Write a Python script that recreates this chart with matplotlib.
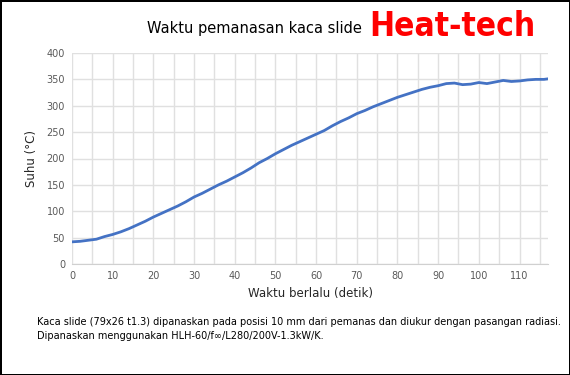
"""Heating time of a glass slide (Heat-tech chart)."""

import matplotlib.pyplot as plt
from matplotlib.ticker import MultipleLocator

# elapsed time (s) and temperature (deg C)
times = [0, 2, 4, 6, 8, 10, 12, 14, 16, 18, 20, 22, 24, 26, 28, 30, 32, 34, 36, 38,
         40, 42, 44, 46, 48, 50, 52, 54, 56, 58, 60, 62, 64, 66, 68, 70, 72, 74, 76, 78,
         80, 82, 84, 86, 88, 90, 92, 94, 96, 98, 100, 102, 104, 106, 108, 110, 112, 114, 116, 118]
temps = [42, 43, 45, 47, 52, 56, 61, 67, 74, 81, 89, 96, 103, 110, 118, 127, 134, 142, 150, 157,
         165, 173, 182, 192, 200, 209, 217, 225, 232, 239, 246, 253, 262, 270, 277, 285, 291, 298, 304, 310,
         316, 321, 326, 331, 335, 338, 342, 343, 340, 341, 344, 342, 345, 348, 346, 347, 349, 350, 350, 352]

title = "Waktu pemanasan kaca slide"
brand = "Heat-tech"
x_label = "Waktu berlalu (detik)"
y_label = "Suhu (°C)"
caption = ("Kaca slide (79x26 t1.3) dipanaskan pada posisi 10 mm dari pemanas dan diukur dengan pasangan radiasi.\n"
           "Dipanaskan menggunakan HLH-60/f\u221e/L280/200V-1.3kW/K.")


def main():
    fig = plt.figure(figsize=(5.7, 3.75), dpi=100, edgecolor="black", linewidth=2)
    ax = fig.add_axes([72 / 570, 111 / 375, 476 / 570, 211 / 375])

    ax.plot(times, temps, color="#4472C4", linewidth=2.0, zorder=3)

    ax.set_xlim(0, 117)
    ax.set_ylim(0, 400)
    ax.xaxis.set_major_locator(MultipleLocator(10))
    ax.xaxis.set_minor_locator(MultipleLocator(5))
    ax.yaxis.set_major_locator(MultipleLocator(50))
    ax.grid(True, which="both", color="#e0e0e0", linewidth=1.0)
    ax.set_axisbelow(True)

    for side in ["top", "right", "left"]:
        ax.spines[side].set_visible(False)
    ax.spines["bottom"].set_color("#d0d0d0")
    ax.tick_params(which="both", length=0, labelsize=7, labelcolor="#595959", pad=5)

    ax.set_xlabel(x_label, fontsize=8.5, color="#262626", labelpad=4)
    ax.set_ylabel(y_label, fontsize=8.5, color="#262626", labelpad=6)

    fig.text(254 / 570, 1 - 28 / 375, title, fontsize=10.5, color="black",
             ha="center", va="center")
    fig.text(452 / 570, 1 - 27 / 375, brand, fontsize=24, color="#ff0000",
             family="DejaVu Sans", stretch="condensed", weight="bold",
             ha="center", va="center")
    fig.text(37 / 570, 1 - 317 / 375, caption, fontsize=7, color="black",
             ha="left", va="top", linespacing=1.5)

    fig.savefig("out.png", dpi=100)
    plt.close(fig)


if __name__ == "__main__":
    main()
